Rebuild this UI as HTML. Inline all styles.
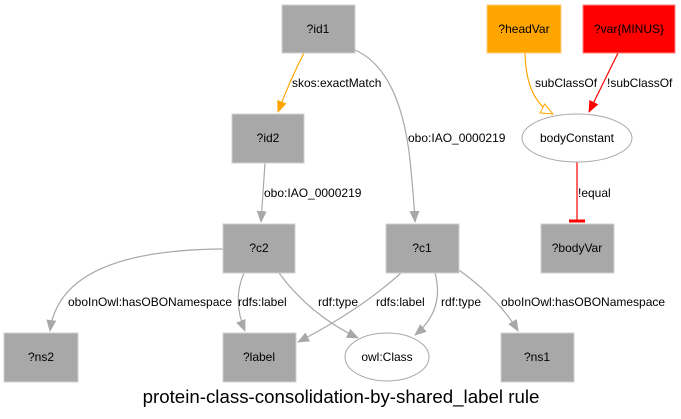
<!DOCTYPE html>
<html><head><style>html,body{margin:0;padding:0;background:#fff}svg{display:block}</style></head>
<body>
<svg width="681" height="419" viewBox="0 0 681 419" xmlns="http://www.w3.org/2000/svg" font-family="Liberation Sans, Arial, sans-serif">
<defs>
<marker id="ag" markerWidth="12" markerHeight="10" refX="11" refY="5" orient="auto" markerUnits="userSpaceOnUse"><path d="M0,0 L12,5 L0,10 Z" fill="#a8a8a8"/></marker>
<marker id="ao" markerWidth="12" markerHeight="10" refX="11" refY="5" orient="auto" markerUnits="userSpaceOnUse"><path d="M0,0 L12,5 L0,10 Z" fill="#ffa500"/></marker>
<marker id="ar" markerWidth="12" markerHeight="10" refX="11" refY="5" orient="auto" markerUnits="userSpaceOnUse"><path d="M0,0 L12,5 L0,10 Z" fill="#ff0000"/></marker>
<marker id="aoe" markerWidth="14" markerHeight="12" refX="13" refY="6" orient="auto" markerUnits="userSpaceOnUse"><path d="M1,1 L13,6 L1,11 Z" fill="#fff" stroke="#ffa500" stroke-width="1"/></marker>
</defs>
<g fill="none" stroke-width="1.2">
<path d="M304,53 Q290,80 278,112" stroke="#ffa500" marker-end="url(#ao)"/>
<path d="M355,50 Q400,70 410,160 Q414,200 415,222" stroke="#a8a8a8" marker-end="url(#ag)"/>
<path d="M265,163 L261,222" stroke="#a8a8a8" marker-end="url(#ag)"/>
<path d="M525,53 Q526,100 553,114" stroke="#ffa500" marker-end="url(#aoe)"/>
<path d="M618,53 L589,112" stroke="#ff0000" marker-end="url(#ar)"/>
<path d="M577,162 L577,221" stroke="#ff0000"/>
<path d="M569,221 L585,221" stroke="#ff0000" stroke-width="3"/>
<path d="M223,249 Q60,250 50,331" stroke="#a8a8a8" marker-end="url(#ag)"/>
<path d="M244,273 Q232,300 245,331" stroke="#a8a8a8" marker-end="url(#ag)"/>
<path d="M279,273 Q310,315 358,338" stroke="#a8a8a8" marker-end="url(#ag)"/>
<path d="M401,273 Q360,310 298,342" stroke="#a8a8a8" marker-end="url(#ag)"/>
<path d="M435,273 Q445,310 415,335" stroke="#a8a8a8" marker-end="url(#ag)"/>
<path d="M459,270 Q500,300 518,331" stroke="#a8a8a8" marker-end="url(#ag)"/>
</g>
<g fill="#a8a8a8" stroke="#d0d0d0" stroke-width="1">
<rect x="282" y="5" width="73" height="48"/>
<rect x="232" y="114" width="72" height="49"/>
<rect x="223" y="224" width="72" height="49"/>
<rect x="386" y="224" width="73" height="49"/>
<rect x="541" y="224" width="73" height="49"/>
<rect x="4" y="333" width="74" height="49"/>
<rect x="223" y="333" width="73" height="49"/>
<rect x="501" y="333" width="73" height="49"/>
</g>
<rect x="487" y="5" width="74" height="48" fill="#ffa500" stroke="#ffd080"/>
<rect x="583" y="5" width="92" height="48" fill="#ff0000" stroke="#ff8080"/>
<ellipse cx="577" cy="138" rx="55" ry="24" fill="#fff" stroke="#a8a8a8"/>
<ellipse cx="387" cy="357" rx="42" ry="24" fill="#fff" stroke="#a8a8a8"/>
<g font-size="12" fill="#000" text-anchor="middle">
<text x="318" y="33">?id1</text>
<text x="268" y="142">?id2</text>
<text x="259" y="252">?c2</text>
<text x="422" y="252">?c1</text>
<text x="577" y="252">?bodyVar</text>
<text x="41" y="361">?ns2</text>
<text x="259" y="361">?label</text>
<text x="537" y="361">?ns1</text>
<text x="524" y="33">?headVar</text>
<text x="629" y="33">?var{MINUS}</text>
<text x="577" y="142">bodyConstant</text>
<text x="387" y="361">owl:Class</text>
</g>
<g font-size="12" fill="#000">
<text x="292" y="87">skos:exactMatch</text>
<text x="408" y="142">obo:IAO_0000219</text>
<text x="264" y="197">obo:IAO_0000219</text>
<text x="535" y="87">subClassOf</text>
<text x="607" y="87">!subClassOf</text>
<text x="578" y="197">!equal</text>
<text x="68" y="306">oboInOwl:hasOBONamespace</text>
<text x="238" y="306">rdfs:label</text>
<text x="318" y="306">rdf:type</text>
<text x="376" y="306">rdfs:label</text>
<text x="441" y="306">rdf:type</text>
<text x="501" y="306">oboInOwl:hasOBONamespace</text>
</g>
<text x="341" y="403" font-size="18.7" text-anchor="middle" fill="#000">protein-class-consolidation-by-shared_label rule</text>
</svg>
</body></html>
